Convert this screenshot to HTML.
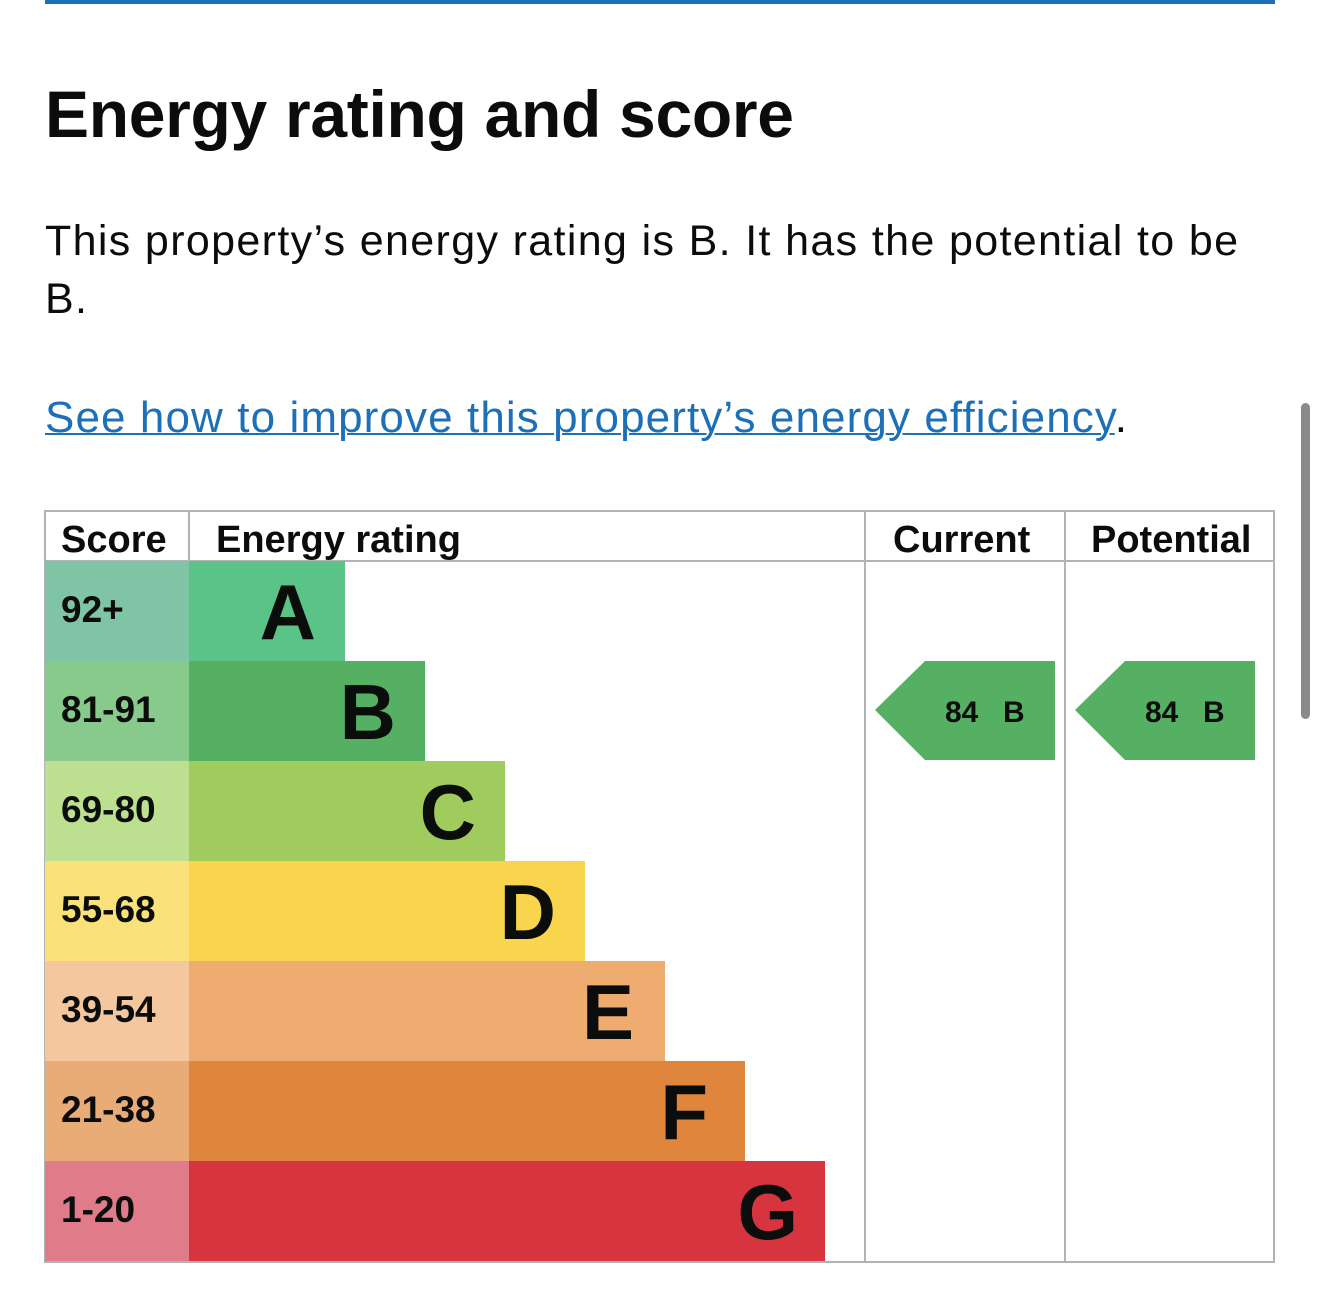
<!DOCTYPE html>
<html><head><meta charset="utf-8"><style>
body{margin:0;width:1320px;height:1306px;background:#fff;overflow:hidden;position:relative;font-family:"Liberation Sans",Arial,sans-serif;color:#0b0c0c}
.t{position:absolute;white-space:nowrap}
</style></head><body>
<div style="position:absolute;left:45px;top:0;width:1230px;height:4px;background:#1d70b8"></div>
<div class="t" style="left:45px;top:76px;font-size:66px;font-weight:bold;letter-spacing:-0.3px">Energy rating and score</div>
<div class="t" style="left:45px;top:212px;font-size:43px;letter-spacing:1.35px;line-height:58px">This property’s energy rating is B. It has the potential to be<br>B.</div>
<div class="t" style="left:45px;top:393px;font-size:44px;letter-spacing:1.1px"><span style="color:#1d70b8;text-decoration:underline;text-decoration-thickness:2px">See how to improve this property’s energy efficiency</span>.</div>
<div style="position:absolute;left:1301px;top:403px;width:9px;height:316px;border-radius:5px;background:#8a8a8a"></div>
<svg width="1320" height="1306" style="position:absolute;left:0;top:0" font-family="Liberation Sans,Arial,sans-serif" font-weight="bold">
<g stroke="#b1b4b6" stroke-width="2" fill="none">
<rect x="45" y="511" width="1229" height="751"/>
<line x1="45" y1="561" x2="1274" y2="561"/>
<line x1="189" y1="511" x2="189" y2="561"/>
<line x1="865" y1="511" x2="865" y2="1262"/>
<line x1="1065" y1="511" x2="1065" y2="1262"/>
</g>
<g font-size="38" fill="#0b0c0c">
<text x="61" y="552">Score</text><text x="216" y="552">Energy rating</text>
<text x="893" y="552">Current</text><text x="1091" y="552">Potential</text>
</g>
<g>
<rect x="45" y="561" width="144" height="100" fill="#7fc4a4"/><rect x="189" y="561" width="156" height="100" fill="#5ac387"/>
<rect x="45" y="661" width="144" height="100" fill="#88c98c"/><rect x="189" y="661" width="236" height="100" fill="#55b063"/>
<rect x="45" y="761" width="144" height="100" fill="#bddf90"/><rect x="189" y="761" width="316" height="100" fill="#9fcc5c"/>
<rect x="45" y="861" width="144" height="100" fill="#fbe179"/><rect x="189" y="861" width="396" height="100" fill="#f8d54c"/>
<rect x="45" y="961" width="144" height="100" fill="#f4c79e"/><rect x="189" y="961" width="476" height="100" fill="#eeac71"/>
<rect x="45" y="1061" width="144" height="100" fill="#e9ac77"/><rect x="189" y="1061" width="556" height="100" fill="#df853c"/>
<rect x="45" y="1161" width="144" height="100" fill="#e07b89"/><rect x="189" y="1161" width="636" height="100" fill="#d63540"/>
</g>
<g font-size="37" fill="#0b0c0c">
<text x="61" y="622">92+</text><text x="61" y="722">81-91</text><text x="61" y="822">69-80</text><text x="61" y="922">55-68</text><text x="61" y="1022">39-54</text><text x="61" y="1122">21-38</text><text x="61" y="1222">1-20</text>
</g>
<g font-size="78" fill="#0b0c0c" text-anchor="end">
<text x="316" y="639">A</text><text x="396" y="739">B</text><text x="476" y="839">C</text><text x="556" y="939">D</text><text x="634" y="1039">E</text><text x="708" y="1139">F</text><text x="798" y="1239">G</text>
</g>
<polygon points="875,710 925,661 1055,661 1055,760 925,760" fill="#55b063"/>
<polygon points="1075,710 1125,661 1255,661 1255,760 1125,760" fill="#55b063"/>
<g font-size="30" fill="#0b0c0c">
<text x="945" y="722">84</text><text x="1003" y="722">B</text>
<text x="1145" y="722">84</text><text x="1203" y="722">B</text>
</g>
</svg>
</body></html>
